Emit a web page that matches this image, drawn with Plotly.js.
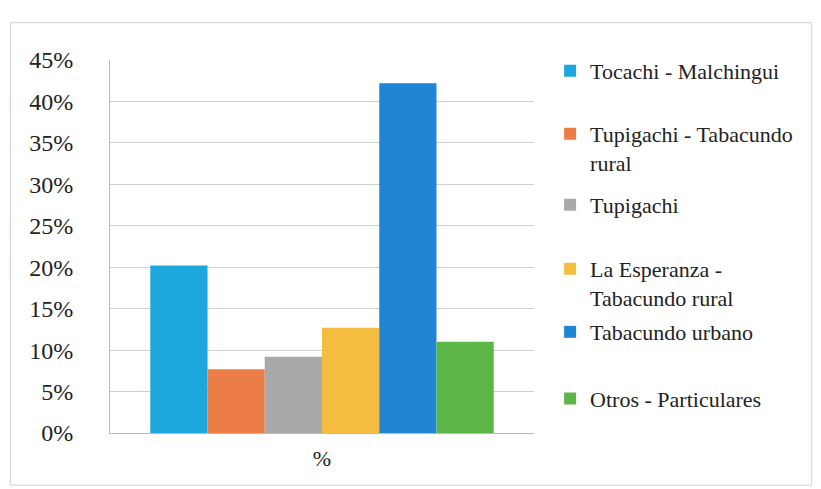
<!DOCTYPE html>
<html>
<head>
<meta charset="utf-8">
<script src="https://cdn.plot.ly/plotly-3.0.1.min.js"></script>
<style>html,body{margin:0;padding:0;background:#fff;}#chart{width:821px;height:489px;}</style>
</head>
<body>
<div id="chart"></div>
<script>
const category = ["%"];
const seriesNames = [
  "Tocachi - Malchingui",
  "Tupigachi - Tabacundo<br>rural",
  "Tupigachi",
  "La Esperanza -<br>Tabacundo rural",
  "Tabacundo urbano",
  "Otros - Particulares"
];
const seriesValues = [0.202, 0.077, 0.092, 0.127, 0.422, 0.110];
const seriesColors = ["#1ea7dd", "#ed7d46", "#a9a9a9", "#f5bd3f", "#1f85d4", "#5cb547"];
const yTickVals = [0, 0.05, 0.10, 0.15, 0.20, 0.25, 0.30, 0.35, 0.40, 0.45];

// layout: vertical placement (paper coords) of each legend entry
const legendTops = [1.027, 0.858, 0.668, 0.496, 0.327, 0.148];

const serif = "Liberation Serif";

const traces = seriesNames.map((n, i) => ({
  type: "bar",
  name: n,
  x: category,
  y: [seriesValues[i]],
  marker: {color: seriesColors[i]},
  legend: i === 0 ? "legend" : "legend" + (i + 1),
  hoverinfo: "name+y"
}));

const layout = {
  width: 821, height: 489,
  margin: {l: 110, r: 287, t: 60, b: 56},
  paper_bgcolor: "#fff",
  plot_bgcolor: "#fff",
  font: {family: serif, color: "#222", size: 22},
  barmode: "group",
  bargap: 0.19,
  bargroupgap: 0,
  xaxis: {
    showgrid: false, showline: true, linecolor: "#bbb", linewidth: 1,
    ticks: "", tickfont: {family: serif, size: 22}, zeroline: false,
    ticklabelstandoff: 6
  },
  yaxis: {
    range: [0, 0.45], tickvals: yTickVals, tickformat: ".0%",
    showgrid: true, gridcolor: "#cfcfcf", gridwidth: 1,
    showline: true, linecolor: "#bbb", zeroline: false,
    ticks: "", tickfont: {family: serif, size: 24}, ticklabelstandoff: 31
  },
  shapes: [{
    type: "rect", xref: "paper", yref: "paper",
    x0: -0.235, x1: 1.655, y0: -0.14, y1: 1.10,
    line: {color: "#d0d0d0", width: 1}, fillcolor: "rgba(0,0,0,0)"
  }],
  showlegend: true
};

legendTops.forEach((yy, i) => {
  const key = i === 0 ? "legend" : "legend" + (i + 1);
  layout[key] = {
    x: 1.038, xanchor: "left", y: yy, yanchor: "top",
    font: {family: serif, size: 22, color: "#222"},
    valign: "top", itemwidth: 30, bgcolor: "rgba(0,0,0,0)"
  };
});

Plotly.newPlot("chart", traces, layout, {displayModeBar: false, staticPlot: true});
</script>
</body>
</html>
